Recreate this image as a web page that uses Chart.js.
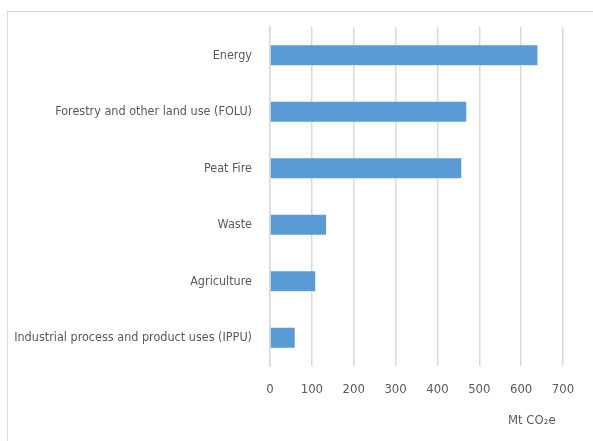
<!DOCTYPE html>
<html>
<head>
<meta charset="utf-8">
<script src="https://cdn.jsdelivr.net/npm/chart.js@4"></script>
<style>
  html, body { margin: 0; padding: 0; background: #fff; overflow: hidden; }
  #frame { position: absolute; left: 7px; top: 11px; width: 700px; height: 500px;
           border-left: 1px solid #d9d9d9; border-top: 1px solid #d9d9d9; }
  #wrap { position: absolute; left: 0; top: 0; width: 593px; height: 441px; }
</style>
</head>
<body>
<div id="frame"></div>
<div id="wrap"><canvas id="myChart"></canvas></div>
<script>
const sectors = ['Energy', 'Forestry and other land use (FOLU)', 'Peat Fire', 'Waste', 'Agriculture', 'Industrial process and product uses (IPPU)'];
const emissions = [639, 469, 457, 134, 108, 59];
const xTicks = [0, 100, 200, 300, 400, 500, 600, 700];

const fontFamily = "'DejaVu Sans Condensed', 'Liberation Sans Narrow', sans-serif";
const textColor = '#595959';
const gridColor = '#d9d9d9';

const ctx = document.getElementById('myChart');

new Chart(ctx, {
    type: 'bar',
    data: {
        labels: sectors,
        datasets: [{
            label: 'Mt CO2e',
            data: emissions,
            backgroundColor: '#5b9bd5',
            categoryPercentage: 1,
            barPercentage: 0.355
        }]
    },
    options: {
        indexAxis: 'y',
        responsive: true,
        maintainAspectRatio: false,
        animation: false,
        layout: {
            padding: { top: 27, right: 30, left: 0, bottom: 0 }
        },
        plugins: {
            legend: { display: false },
            tooltip: { enabled: false }
        },
        scales: {
            x: {
                min: 0,
                max: 700,
                afterBuildTicks: function(axis) {
                    axis.ticks = xTicks.map(v => ({ value: v }));
                },
                afterFit: function(axis) { axis.height = 75; },
                grid: { color: gridColor, lineWidth: 1.5, drawTicks: false },
                border: { display: false },
                ticks: {
                    color: textColor,
                    padding: 16,
                    font: { family: fontFamily, size: 13 }
                },
                title: {
                    display: true,
                    text: 'Mt CO₂e  ',
                    align: 'end',
                    color: textColor,
                    padding: { top: 0, bottom: 13 },
                    font: { family: fontFamily, size: 13 }
                }
            },
            y: {
                afterFit: function(axis) { axis.width = 270; },
                grid: { display: false, drawTicks: false },
                border: { display: true, color: gridColor, width: 1.5 },
                ticks: {
                    color: textColor,
                    padding: 18,
                    font: { family: fontFamily, size: 12.5 }
                }
            }
        }
    }
});
</script>
</body>
</html>
